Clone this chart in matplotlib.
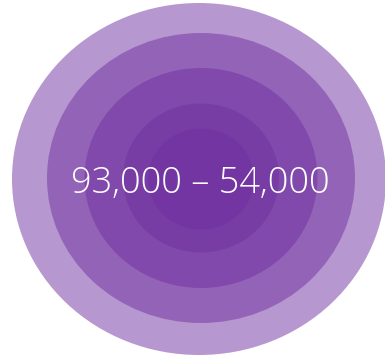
import matplotlib
matplotlib.use("Agg")
import matplotlib.pyplot as plt
from matplotlib.patches import Ellipse

# Nested rings, outermost first (sizes in chart units of the canvas).
ring_widths = [374, 308, 233, 156, 106]
ring_heights = [352, 290, 220, 149, 101]
ring_centers_x = [199, 201, 201, 201, 201]
ring_centers_y = [179, 178, 178, 178, 179]
label_text = "93,000 \u2013 54,000"

ring_color = "#7030A0"

fig = plt.figure(figsize=(3.85, 3.58), dpi=100)
ax = fig.add_axes([0, 0, 1, 1])
ax.set_xlim(0, 385)
ax.set_ylim(358, 0)
ax.axis("off")

# Each ring is drawn semi-transparent so the overlaps darken toward the centre.
for w, h, cx, cy in zip(ring_widths, ring_heights, ring_centers_x, ring_centers_y):
    ax.add_patch(Ellipse((cx, cy), w, h, facecolor=ring_color, alpha=0.5,
                         edgecolor="none"))

ax.text(200, 183, label_text, ha="center", va="center", color="white",
        fontsize=26, family=["Open Sans", "DejaVu Sans"], fontweight="light")

fig.savefig("out.png", dpi=100)
